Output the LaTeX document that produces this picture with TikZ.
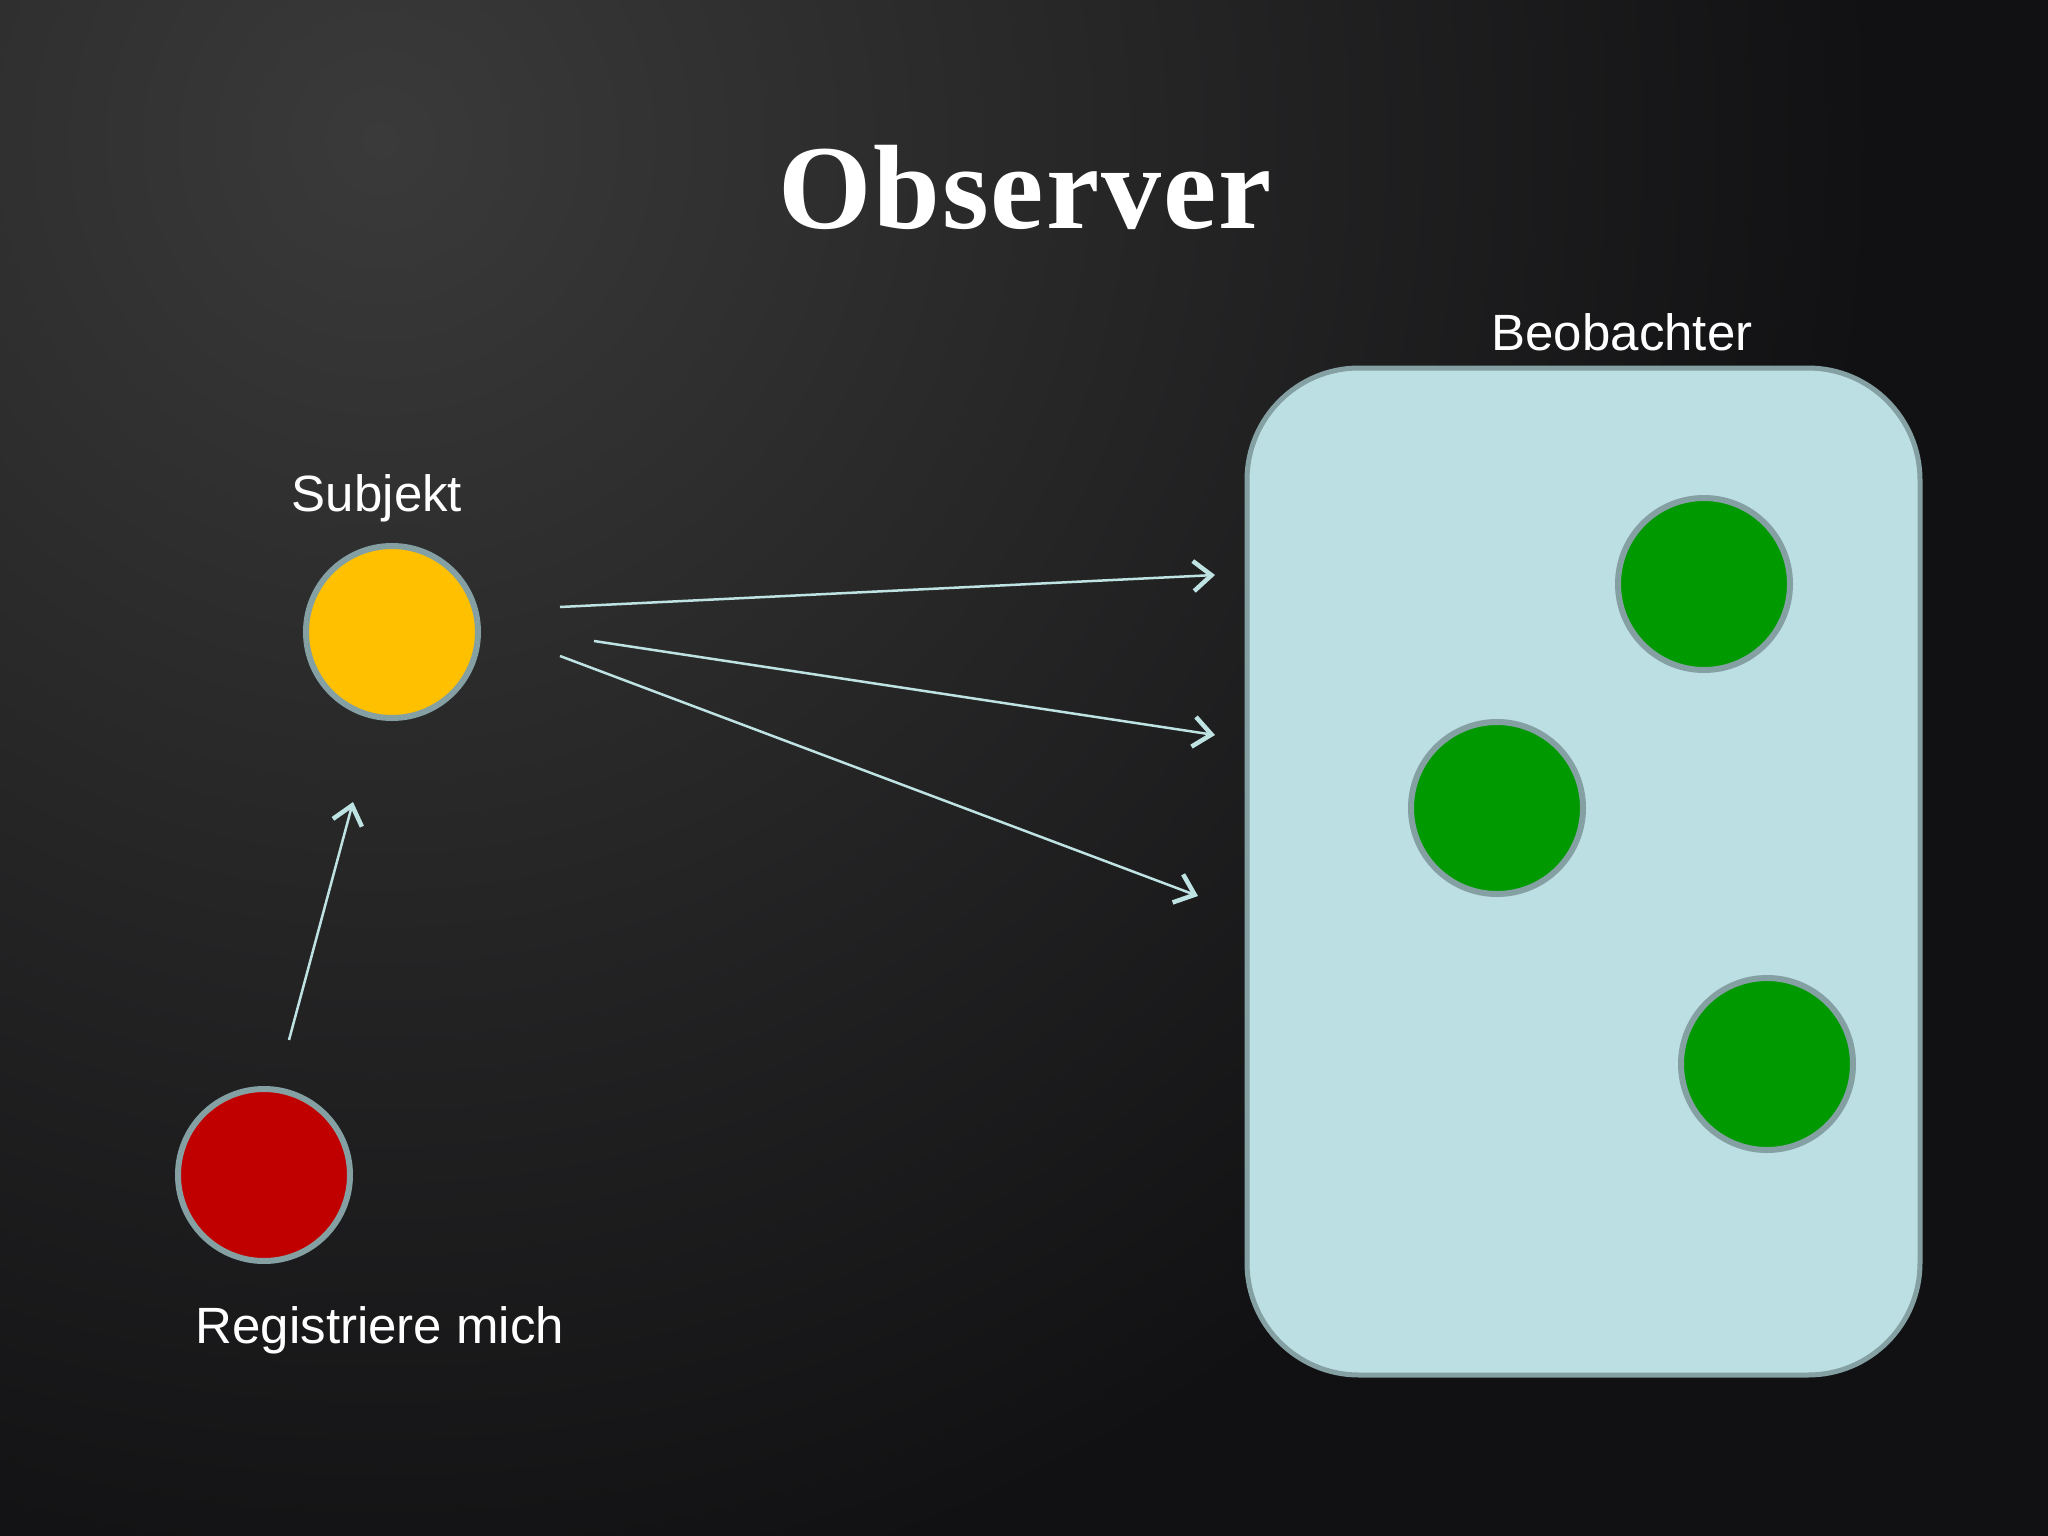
\documentclass[tikz,border=0pt]{standalone}
\usepackage{fontspec}
\setmainfont{Liberation Serif}
\setsansfont{Liberation Sans}
\usetikzlibrary{arrows.meta}
\definecolor{bgdark}{HTML}{111113}
\definecolor{bglight}{HTML}{3A3A3A}
\definecolor{rim}{HTML}{84A0A3}
\definecolor{arrowc}{HTML}{BFE3E3}
\definecolor{boxfill}{HTML}{BCDFE3}
\definecolor{ygold}{HTML}{FFC000}
\definecolor{rred}{HTML}{C00000}
\definecolor{ggreen}{HTML}{009900}
\tikzset{
  ball/.style={circle, draw=rim, line width=6pt, minimum size=172pt, inner sep=0pt},
  lbl/.style={text=white, font=\sffamily\fontsize{51}{60}\selectfont, anchor=base, inner sep=0pt},
  conn/.style={draw=arrowc, line width=2.5pt, -{Straight Barb[length=18pt,width=30pt,line width=4.5pt]}}
}
\begin{document}
\begin{tikzpicture}[x=1pt,y=-1pt]
\useasboundingbox (0,0) rectangle (2048,1536);
\begin{scope}
\clip (0,0) rectangle (2048,1536);
\fill[bgdark] (0,0) rectangle (2048,1536);
\shade[inner color=bglight, outer color=bgdark] (380,140) circle (1500);
\end{scope}
% title
\node[text=white, font=\rmfamily\bfseries\fontsize{120}{140}\selectfont, anchor=base, inner sep=0pt] (title) at (1025,228) {O\kern2pt b\kern2pt s\kern2pt e\kern2pt r\kern2pt v\kern2pt e\kern2pt r};
% observer box
\draw[draw=rim, fill=boxfill, line width=5pt, rounded corners=112pt] (1247,368) rectangle (1920,1375);
\node[lbl] (beolbl) at (1622,350) {Beobachter};
% circles
\node[ball, fill=ygold] (subj) at (392,632) {};
\node[ball, fill=rred] (reg) at (264,1175) {};
\node[ball, fill=ggreen] (o1) at (1704,584) {};
\node[ball, fill=ggreen] (o2) at (1497,808) {};
\node[ball, fill=ggreen] (o3) at (1767,1064) {};
\node[lbl] (subjlbl) at (377,511) {Subjekt};
\node[lbl] (reglbl) at (380,1343) {Registriere mich};
% connector ends
\coordinate (s1) at (560,607);
\coordinate (e1) at (1215,575);
\coordinate (s2) at (594,641);
\coordinate (e2) at (1215,735);
\coordinate (s3) at (560,656);
\coordinate (e3) at (1198,896);
\coordinate (s4) at (289,1040);
\coordinate (e4) at (353,802);
\draw[conn] (s1) -- (e1);
\draw[conn] (s2) -- (e2);
\draw[conn] (s3) -- (e3);
\draw[conn] (s4) -- (e4);
\end{tikzpicture}
\end{document}
